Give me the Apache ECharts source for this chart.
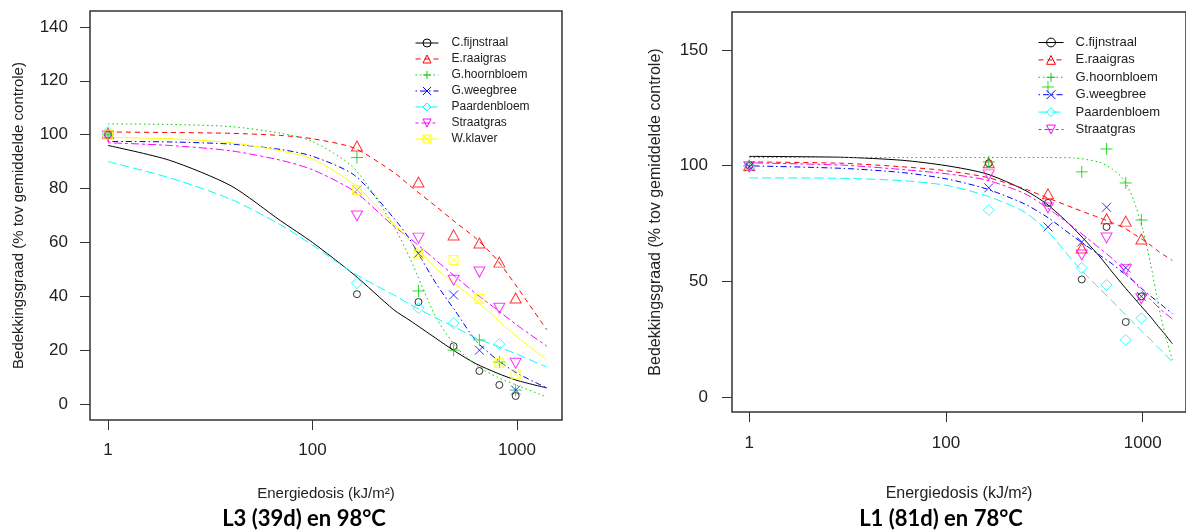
<!DOCTYPE html>
<html><head><meta charset="utf-8">
<script src="https://cdn.jsdelivr.net/npm/echarts@6/dist/echarts.min.js"></script>
<style>html,body{margin:0;padding:0;background:#fff}#c{width:1186px;height:531px}</style>
</head><body><div id="c"></div>
<script>
// ---------- DATA ----------
const speciesL3 = ['C.fijnstraal','E.raaigras','G.hoornbloem','G.weegbree','Paardenbloem','Straatgras','W.klaver'];
const speciesL1 = ['C.fijnstraal','E.raaigras','G.hoornbloem','G.weegbree','Paardenbloem','Straatgras'];

// x positions: the control is drawn at the tick labelled "1"
const xTickValues = [10, 100, 1000];
const xTickLabels = ['1', '100', '1000'];
const yTicksL3 = [0, 20, 40, 60, 80, 100, 120, 140];
const yTicksL1 = [0, 50, 100, 150];

// observed points (dose kJ/m², control first)
const pointDose = [10, 165, 330, 490, 655, 820, 985];
const L3pts_fijnstraal = [100, 40.8, 37.9, 21.5, 12.3, 7.1, 3.0];
const L3pts_raaigras   = [100.5, 95.8, 82.4, 62.8, 59.8, 52.7, 39.4];
const L3pts_hoornbloem = [100, 91.5, 42, 20, 23.8, 15.6, 5.2];
const L3pts_weegbree   = [100, 79.5, 56, 40.5, 20, null, 5.2];
const L3pts_paarden    = [101, 44.9, 35.6, 30, null, 22.3, null];
const L3pts_straatgras = [99.5, 69.8, 61.6, 46, 49, 35.6, 15.2];
const L3pts_klaver     = [100, 79.5, 55.5, 53.5, 39, 15.2, 11.1];

const L1pts_fijnstraal = [100, 101, 83.9, 50.8, 73.5, 32.4, 43.5];
const L1pts_raaigras   = [100, 101.2, 87.8, 64.4, 77, 76, 68.3];
const L1pts_hoornbloem = [100, 101.6, 134, 97.3, 107.2, 92.5, 76.5];
const L1pts_weegbree   = [99.5, 90.4, 73.5, 67, 82, 55.8, 43.5];
const L1pts_paarden    = [99.5, 80.8, null, 55.8, 48.4, 24.6, 34];
const L1pts_straatgras = [99.5, 96, 81.7, 61.4, 68.7, 55, 42.5];

// fitted curves
const L3curveDose = [10, 20, 40, 70, 100, 160, 250, 300, 400, 500, 630, 800, 1000, 1400];
const L3fit_fijnstraal = [96, 90.5, 81, 68, 60, 48, 35, 31, 24.5, 19.5, 15, 11.5, 8.8, 6];
const L3fit_raaigras   = [101, 100.8, 100.5, 99.7, 98.5, 95, 86, 81, 73.5, 67.5, 61.5, 53.5, 43.5, 27.5];
const L3fit_hoornbloem = [104, 103.8, 103, 100.5, 97.5, 87.5, 66, 54, 32.5, 21.5, 14.5, 10, 7, 2.6];
const L3fit_weegbree   = [97.5, 97.3, 96.5, 94.5, 92, 85, 69, 61, 45, 34.5, 23.5, 16.5, 11.5, 6];
const L3fit_paarden    = [90, 84, 76, 66.5, 59, 48.5, 40.5, 37, 32, 28.5, 24.5, 21.5, 18.5, 13.7];
const L3fit_straatgras = [97, 96, 94, 90.5, 87, 79, 66, 61.5, 53.5, 47.3, 41, 35, 29.3, 21.5];
const L3fit_klaver     = [99, 98.5, 97, 94, 91, 81.5, 67, 60.5, 50.5, 44.5, 38.5, 31.5, 25, 16.5];

const L1curveDose = [10, 30, 60, 100, 160, 250, 330, 450, 600, 700, 800, 900, 1000, 1100, 1200, 1300, 1415];
const L1fit_fijnstraal = [104, 103.6, 102.3, 100, 96.5, 89.5, 83, 72.5, 61, 54, 48, 43, 38.5, 34.5, 30.5, 27, 23];
const L1fit_raaigras   = [101.6, 101, 99.5, 97.8, 95, 90, 86, 81.5, 77.5, 75.3, 73.2, 70.5, 68, 65.5, 63, 61, 59];
const L1fit_hoornbloem = [103.5, 103.5, 103.5, 103.5, 103.5, 103.5, 103.5, 103.3, 101.5, 98.5, 94, 85, 72.5, 57, 40, 27, 16];
const L1fit_weegbree   = [99.9, 98.8, 97, 94.3, 90, 83.5, 77.5, 69, 61.5, 57.5, 53.5, 50, 46.5, 43.5, 41, 38.5, 36];
const L1fit_paarden    = [94.7, 94.5, 93.5, 91.5, 87, 80, 71.5, 58, 47, 41.5, 36.3, 32, 28, 24.7, 21.3, 18.4, 15.2];
const L1fit_straatgras = [101.2, 100.2, 98.3, 96.5, 93.8, 88, 81.5, 73, 64.5, 59.8, 55, 50, 45.5, 42, 38.8, 36.2, 33.7];

// ---------- STYLE ----------
const P_PLUS = 'path://M0,5L10,5M5,0L5,10';
const P_X = 'path://M0,0L10,10M10,0L0,10';
const P_INV = 'path://M0,0L10,0L5,9Z';
const P_SQX = 'path://M0,0L10,0L10,10L0,10ZM0,0L10,10M10,0L0,10';
const style = {
  'C.fijnstraal': {color: '#000000', dash: 'solid', symbol: 'circle', size: 7},
  'E.raaigras':   {color: '#ff0000', dash: [5, 4], symbol: 'triangle', size: [11, 10]},
  'G.hoornbloem': {color: '#00cd00', dash: [1.5, 3], symbol: P_PLUS, size: 12},
  'G.weegbree':   {color: '#0000ff', dash: [1.5, 3, 6, 3], symbol: P_X, size: 9},
  'Paardenbloem': {color: '#00ffff', dash: [9, 4], symbol: 'diamond', size: [11, 11]},
  'Straatgras':   {color: '#ff00ff', dash: [3, 3, 8, 3], symbol: P_INV, size: [11, 10]},
  'W.klaver':     {color: '#ffff00', dash: 'solid', symbol: P_SQX, size: 9}
};

const L3pts = [L3pts_fijnstraal, L3pts_raaigras, L3pts_hoornbloem, L3pts_weegbree, L3pts_paarden, L3pts_straatgras, L3pts_klaver];
const L3fit = [L3fit_fijnstraal, L3fit_raaigras, L3fit_hoornbloem, L3fit_weegbree, L3fit_paarden, L3fit_straatgras, L3fit_klaver];
const L1pts = [L1pts_fijnstraal, L1pts_raaigras, L1pts_hoornbloem, L1pts_weegbree, L1pts_paarden, L1pts_straatgras];
const L1fit = [L1fit_fijnstraal, L1fit_raaigras, L1fit_hoornbloem, L1fit_weegbree, L1fit_paarden, L1fit_straatgras];

const FONT = "'Liberation Sans', Arial, sans-serif";
const TXT = '#222';
const series = [];
function addPanel(idx, names, dose, fits, pts) {
  names.forEach((n, i) => {
    const s = style[n];
    series.push({
      type: 'line', name: n, xAxisIndex: idx, yAxisIndex: idx,
      data: dose.map((d, k) => [d, fits[i][k]]),
      showSymbol: false, symbol: s.symbol, symbolSize: s.size,
      smooth: 0.25, clip: true, silent: true,
      lineStyle: {color: s.color, width: 1, type: s.dash},
      itemStyle: {color: s.color}, z: 2
    });
  });
  names.forEach((n, i) => {
    const s = style[n];
    series.push({
      type: 'scatter', name: n, xAxisIndex: idx, yAxisIndex: idx,
      data: pointDose.map((d, k) => [d, pts[i][k]]).filter(p => p[1] !== null),
      symbol: s.symbol, symbolSize: s.size, silent: true,
      itemStyle: {color: 'rgba(0,0,0,0)', borderColor: s.color, borderWidth: 1}, z: 3
    });
  });
}
addPanel(0, speciesL3, L3curveDose, L3fit, L3pts);
addPanel(1, speciesL1, L1curveDose, L1fit, L1pts);

function legendData(names) {
  return names.map(n => ({
    name: n,
    itemStyle: {color: 'rgba(0,0,0,0)', borderColor: style[n].color, borderWidth: 1},
    lineStyle: {color: style[n].color, width: 1, type: style[n].dash}
  }));
}
const xLabelFmt = v => { const i = xTickValues.indexOf(Math.round(v)); return i >= 0 ? xTickLabels[i] : ''; };

function xAxis(idx, gap, nameSize, margin) {
  return {
    type: 'log', logBase: 10, gridIndex: idx, min: 8.17, max: 1660,
    name: 'Energiedosis (kJ/m²)', nameLocation: 'middle', nameGap: gap,
    nameTextStyle: {fontFamily: FONT, fontSize: nameSize, color: TXT},
    axisLine: {show: false, onZero: false},
    axisTick: {show: true, inside: false, length: 10, customValues: xTickValues, lineStyle: {color: '#333', width: 1}},
    axisLabel: {customValues: xTickValues, formatter: xLabelFmt, fontFamily: FONT, fontSize: 17, color: TXT, margin: margin},
    splitLine: {show: false}, minorTick: {show: false}, minorSplitLine: {show: false}
  };
}
function yAxis(idx, min, max, ticks, gap, nameSize, margin) {
  return {
    type: 'value', gridIndex: idx, min: min, max: max,
    name: 'Bedekkingsgraad (% tov gemiddelde controle)', nameLocation: 'middle', nameGap: gap,
    nameTextStyle: {fontFamily: FONT, fontSize: nameSize, color: TXT},
    axisLine: {show: false, onZero: false},
    axisTick: {show: true, inside: false, length: 10, customValues: ticks, lineStyle: {color: '#333', width: 1}},
    axisLabel: {customValues: ticks, fontFamily: FONT, fontSize: 17, color: TXT, margin: margin},
    splitLine: {show: false}
  };
}

const chart = echarts.init(document.getElementById('c'), null, {renderer: 'canvas'});
chart.setOption({
  backgroundColor: '#fff',
  animation: false,
  grid: [
    {left: 90, top: 11, width: 472, height: 409, show: true, borderColor: '#333', borderWidth: 1.5, backgroundColor: 'transparent'},
    {left: 732, top: 12, width: 459, height: 400, show: true, borderColor: '#333', borderWidth: 1.5, backgroundColor: 'transparent'}
  ],
  xAxis: [xAxis(0, 66, 15, 22), xAxis(1, 74, 16, 23)],
  yAxis: [yAxis(0, -5.9, 145.9, yTicksL3, 64, 15, 22), yAxis(1, -6.5, 166.4, yTicksL1, 68, 16, 24)],
  legend: [
    {orient: 'vertical', left: 415, top: 37, padding: 0, itemWidth: 23, itemHeight: 10, itemGap: 4,
     textStyle: {fontFamily: FONT, fontSize: 12, color: TXT, padding: [0, 0, 0, 8]},
     selectedMode: false, data: legendData(speciesL3)},
    {orient: 'vertical', left: 1038, top: 36, padding: 0, itemWidth: 25, itemHeight: 11, itemGap: 4.4,
     textStyle: {fontFamily: FONT, fontSize: 13, color: TXT, padding: [0, 0, 0, 7]},
     selectedMode: false, data: legendData(speciesL1)}
  ],
  graphic: [
    {type: 'text', x: 304, y: 519, style: {text: 'L3 (39d) en 98°C', font: "bold 22px Lato, 'Liberation Sans', sans-serif", fill: '#000', align: 'center', verticalAlign: 'middle'}},
    {type: 'text', x: 941, y: 519, style: {text: 'L1 (81d) en 78°C', font: "bold 22px Lato, 'Liberation Sans', sans-serif", fill: '#000', align: 'center', verticalAlign: 'middle'}}
  ],
  series: series
});
</script></body></html>
